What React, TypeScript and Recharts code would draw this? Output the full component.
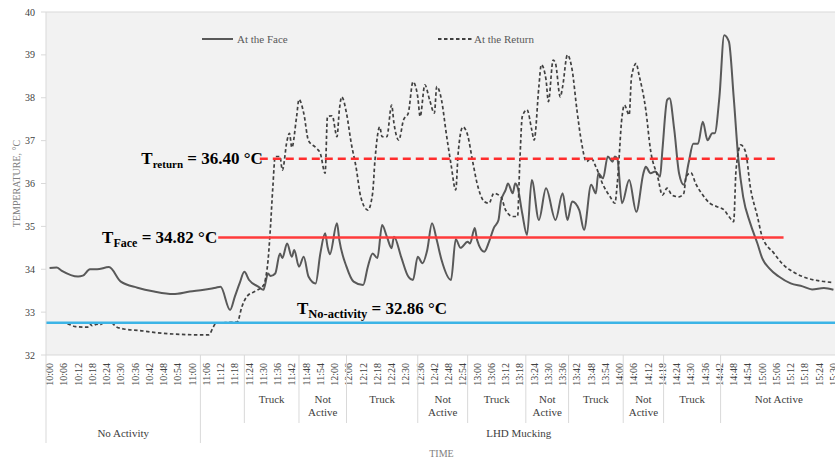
import React from "react";
import {
  LineChart,
  Line,
  XAxis,
  YAxis,
  CartesianGrid,
  ReferenceLine,
  Legend,
} from "recharts";

const FONT = '"Liberation Serif", "Times New Roman", serif';

// minutes after 10:00
const timeLabels = [
  "10:00", "10:06", "10:12", "10:18", "10:24", "10:30", "10:36", "10:42", "10:48", "10:54",
  "11:00", "11:06", "11:12", "11:18", "11:24", "11:30", "11:36", "11:42", "11:48", "11:54",
  "12:00", "12:06", "12:12", "12:18", "12:24", "12:30", "12:36", "12:42", "12:48", "12:54",
  "13:00", "13:06", "13:12", "13:18", "13:24", "13:30", "13:36", "13:42", "13:48", "13:54",
  "14:00", "14:06", "14:12", "14:18", "14:24", "14:30", "14:36", "14:42", "14:48", "14:54",
  "15:00", "15:06", "15:12", "15:18", "15:24", "15:30",
];

const faceMin = [
  0, 3, 5, 12, 14, 17, 20, 25, 30, 37, 44, 52, 59, 65, 70, 72, 76, 78, 80, 82, 84, 88, 90, 92,
  93, 95, 97, 98, 100, 102, 103, 105, 107, 109, 112, 114, 116, 117, 118, 121, 122, 125, 128,
  132, 134, 136, 138, 140, 142, 144, 145, 148, 151, 153, 155, 157, 159, 161, 163, 165, 169,
  171, 173, 176, 177, 179, 180, 183, 185, 187, 189, 190, 192, 193, 195, 196, 197, 199, 201,
  203, 206, 209, 213, 216, 218, 220, 223, 225, 228, 230, 231, 233, 235, 237, 238, 239, 241,
  244, 247, 250, 251, 253, 255, 257, 258, 260, 261, 263, 265, 267, 269, 271, 273, 275, 277,
  279, 280, 282, 284, 286, 288, 290, 292, 295, 298, 300, 303, 307, 312, 317, 321, 326, 330,
];
const faceTemp = [
  34.03, 34.04, 33.97, 33.83, 33.85, 34.0, 34.0, 34.05, 33.71, 33.57, 33.48, 33.42, 33.48,
  33.52, 33.57, 33.59, 33.05, 33.36, 33.67, 33.94, 33.75, 33.59, 33.52, 33.9, 33.84, 33.9,
  34.37, 34.26, 34.6, 34.29, 34.45, 34.06, 34.29, 33.83, 33.67, 34.37, 34.84, 34.53, 34.35,
  35.07, 34.68, 34.06, 33.71, 33.63, 34.06, 34.37, 34.26, 35.03, 34.76, 34.49, 34.76, 34.29,
  33.83, 33.75, 34.29, 34.14, 34.45, 35.07, 34.68, 34.22, 33.75, 34.7, 34.5, 34.64, 34.6,
  34.96, 34.68, 34.41, 34.64, 34.96, 35.15, 35.58, 35.85, 36.0, 35.77, 36.0, 35.92, 35.3,
  34.8, 36.08, 35.15, 35.89, 35.15, 35.77, 35.15, 35.58, 35.38, 34.92, 35.97, 35.77, 36.24,
  36.12, 36.63, 36.51, 36.63, 36.58, 35.54, 36.08, 35.34, 36.24, 36.39, 36.24, 36.28, 36.16,
  36.78, 37.95, 37.99, 37.25, 36.24, 35.97, 36.47, 36.93, 36.93, 37.44, 37.01, 37.17, 37.17,
  38.02, 39.46, 39.31, 38.02, 36.55, 35.69, 35.07, 34.6, 34.26, 34.02, 33.83, 33.67, 33.6,
  33.53, 33.56, 33.52,
];

const returnMin = [
  0, 5, 7, 11, 16, 17, 18, 20, 21, 23, 26, 28, 32, 38, 45, 52, 63, 67, 69, 70, 76, 79, 81, 83,
  87, 90, 91, 92, 93, 94, 95, 97, 98, 100, 101, 102, 104, 105, 107, 109, 112, 114, 116, 117,
  119, 121, 122, 123, 125, 127, 129, 131, 134, 136, 137, 139, 140, 142, 144, 145, 147, 149,
  151, 153, 155, 156, 158, 160, 162, 163, 165, 167, 169, 171, 172, 174, 176, 178, 180, 183,
  185, 187, 190, 192, 195, 197, 198, 199, 201, 203, 204, 206, 207, 209, 210, 212, 213, 215,
  216, 218, 220, 222, 224, 226, 228, 230, 233, 236, 238, 239, 241, 242, 244, 245, 247, 248,
  251, 253, 256, 258, 260, 262, 265, 267, 268, 270, 272, 275, 278, 281, 284, 286, 288, 289,
  291, 293, 295, 298, 300, 305, 309, 313, 319, 324, 330,
];
const returnTemp = [
  32.75, 32.75, 32.74, 32.66, 32.65, 32.72, 32.68, 32.72, 32.7, 32.75, 32.75, 32.66, 32.6,
  32.57, 32.52, 32.49, 32.47, 32.47, 32.66, 32.74, 32.76, 32.77, 33.13, 33.36, 33.5, 33.62,
  33.8, 34.22, 34.99, 35.92, 36.63, 36.63, 36.31, 37.01, 37.17, 36.84, 37.56, 37.96, 37.64,
  37.0, 36.84, 36.7, 36.24, 37.56, 37.58, 37.09, 37.72, 38.02, 37.64, 36.94, 36.39, 35.69,
  35.38, 35.77, 36.55, 37.32, 37.09, 37.09, 37.83, 37.4, 37.01, 37.48, 37.64, 38.37, 38.02,
  37.56, 38.3, 37.95, 37.64, 38.26, 37.95, 37.17, 36.45, 35.85, 36.7, 37.32, 37.13, 36.55,
  36.0, 35.58, 35.54, 35.77, 35.69, 35.38, 35.23, 35.23, 36.55, 37.56, 37.72, 37.25, 37.01,
  38.26, 38.77, 38.42, 37.91, 38.88, 38.8, 38.02, 38.26, 39.0, 38.65, 37.72, 36.94, 36.51,
  36.59, 36.39, 35.97, 35.69, 35.54, 36.0, 37.56, 37.83, 37.6, 38.49, 38.8, 38.57, 37.72,
  36.78, 36.16, 35.73, 35.89, 35.73, 35.69, 35.77, 36.16, 36.25, 36.0, 35.73, 35.54, 35.46,
  35.38, 35.23, 35.11, 36.32, 36.9, 36.74, 35.92, 35.23, 34.76, 34.37, 34.1, 33.94, 33.79,
  33.73, 33.69,
];

// activity groups (start minute of each group, last one runs to the end of the axis)
const activityStart = [63.5, 82, 105, 125, 155, 176, 200.5, 218.5, 241.5, 258.5, 282.5];
const activityLabel = [
  "", "Truck", "Not\nActive", "Truck", "Not\nActive", "Truck", "Not\nActive", "Truck",
  "Not\nActive", "Truck", "Not Active",
];
const phaseStart = [-1.5, 63.5];
const phaseLabel = ["No Activity", "LHD Mucking"];

const yTicks = [32, 33, 34, 35, 36, 37, 38, 39, 40];
const X_DOMAIN: [number, number] = [-1.5, 331.5];

const tReturn = 36.58;
const tFace = 34.74;
const tNoActivity = 32.75;

const TIME_AXIS_H = 40;

const toMin = (s: string) => {
  const [h, m] = s.split(":").map(Number);
  return (h - 10) * 60 + m;
};
const fmt = (m: number) => `${10 + Math.floor(m / 60)}:${String(m % 60).padStart(2, "0")}`;

const timeTicks = timeLabels.map(toMin);
const faceData = faceMin.map((m, i) => ({ min: m, temp: faceTemp[i] }));
const returnData = returnMin.map((m, i) => ({ min: m, temp: returnTemp[i] }));

type GInfo = { kind: "actSep" | "phaseSep" | "actLabel" | "phaseLabel"; label?: string };
const groupInfo = new Map<number, GInfo>();
activityStart.forEach((s, i) => {
  const e = i + 1 < activityStart.length ? activityStart[i + 1] : X_DOMAIN[1];
  groupInfo.set(s, { kind: "actSep" });
  if (activityLabel[i]) groupInfo.set((s + e) / 2, { kind: "actLabel", label: activityLabel[i] });
});
phaseStart.forEach((s, i) => {
  const e = i + 1 < phaseStart.length ? phaseStart[i + 1] : X_DOMAIN[1];
  groupInfo.set(s, { kind: "phaseSep" });
  groupInfo.set((s + e) / 2, { kind: "phaseLabel", label: phaseLabel[i] });
});
const groupTicks = Array.from(groupInfo.keys()).sort((a, b) => a - b);

function TimeTick({ x, y, payload }: any) {
  const ty = y + 8;
  return (
    <text
      x={x}
      y={ty}
      transform={`rotate(-90, ${x}, ${ty})`}
      textAnchor="end"
      dy="0.35em"
      fontSize={10}
      fontFamily={FONT}
      fill="#404040"
    >
      {fmt(payload.value)}
    </text>
  );
}

function GroupTick({ x, y, payload }: any) {
  const info = groupInfo.get(payload.value);
  if (!info) return <g />;
  const top = y - TIME_AXIS_H;
  if (info.kind === "actSep" || info.kind === "phaseSep") {
    return (
      <line
        x1={x}
        x2={x}
        y1={top}
        y2={info.kind === "actSep" ? top + 68 : top + 88}
        stroke="#d9d9d9"
        strokeWidth={1}
      />
    );
  }
  const lines = (info.label || "").split("\n");
  const ty = info.kind === "actLabel" ? top + 48 : top + 82;
  return (
    <text x={x} y={ty} textAnchor="middle" fontSize={11} fontFamily={FONT} fill="#404040">
      {lines.map((l, i) => (
        <tspan key={i} x={x} dy={i === 0 ? 0 : 12.7}>
          {l}
        </tspan>
      ))}
    </text>
  );
}

function TempLabel({ viewBox }: any) {
  const cx = viewBox.x + 16;
  const cy = viewBox.y + viewBox.height / 2;
  return (
    <text
      x={cx}
      y={cy}
      transform={`rotate(-90, ${cx}, ${cy})`}
      textAnchor="middle"
      dy="0.35em"
      fontSize={10}
      fontFamily={FONT}
      fill="#808080"
    >
      TEMPERATURE, °C
    </text>
  );
}

function TimeLabel({ viewBox }: any) {
  return (
    <text
      x={viewBox.x + viewBox.width / 2}
      y={viewBox.y + 58}
      textAnchor="middle"
      dy="0.35em"
      fontSize={10}
      fontFamily={FONT}
      fill="#808080"
    >
      TIME
    </text>
  );
}

function Anno({
  x,
  y,
  sub,
  value,
  subSize,
  anchor,
}: {
  x: number;
  y: number;
  sub: string;
  value: string;
  subSize: number;
  anchor: "start" | "end";
}) {
  return (
    <text x={x} y={y} textAnchor={anchor} fontFamily={FONT} fontWeight="bold" fontSize={17} fill="#000">
      <tspan>T</tspan>
      <tspan fontSize={subSize} dy={4}>
        {sub}
      </tspan>
      <tspan dy={-4}>{` = ${value} °C`}</tspan>
    </text>
  );
}

function LegendContent({ payload }: any) {
  const slots = [
    { x1: 7, x2: 38, tx: 42 },
    { x1: 243, x2: 277, tx: 279 },
  ];
  return (
    <svg width={380} height={20} style={{ display: "block" }}>
      {(payload || []).map((p: any, i: number) => {
        const s = slots[i];
        if (!s) return null;
        return (
          <g key={p.value}>
            <line
              x1={s.x1}
              x2={s.x2}
              y1={10}
              y2={10}
              stroke={p.color}
              strokeWidth={2}
              strokeDasharray={p.payload?.strokeDasharray}
            />
            <text x={s.tx} y={10} dy="0.35em" fontSize={11} fontFamily={FONT} fill="#595959">
              {p.value}
            </text>
          </g>
        );
      })}
    </svg>
  );
}

export default function App() {
  return (
    <div
      style={{
        position: "absolute",
        left: 0,
        top: 0,
        width: 835,
        height: 458,
        overflow: "hidden",
        background: "#fff",
      }}
    >
      <LineChart width={837} height={458} margin={{ top: 12, right: 0, bottom: 0, left: 0 }}>
        <CartesianGrid fill="#f2f2f2" horizontal={false} vertical={false} stroke="none" />
        <XAxis
          dataKey="min"
          type="number"
          domain={X_DOMAIN}
          allowDataOverflow
          ticks={timeTicks}
          interval={0}
          height={TIME_AXIS_H}
          tickLine={false}
          tickSize={0}
          tickMargin={0}
          axisLine={{ stroke: "#d9d9d9" }}
          tick={TimeTick}
        />
        <XAxis
          xAxisId="grp"
          dataKey="min"
          type="number"
          domain={X_DOMAIN}
          allowDataOverflow
          ticks={groupTicks}
          interval={0}
          height={458 - 355 - TIME_AXIS_H}
          tickLine={false}
          tickSize={0}
          tickMargin={0}
          axisLine={false}
          tick={GroupTick}
          label={(p: any) => <TimeLabel {...p} />}
        />
        <YAxis
          type="number"
          domain={[32, 40]}
          ticks={yTicks}
          interval={0}
          width={46}
          tickSize={5}
          tickMargin={6}
          tickLine={{ stroke: "#d9d9d9" }}
          axisLine={{ stroke: "#d9d9d9" }}
          tick={{ fill: "#404040", fontSize: 10, fontFamily: FONT }}
          label={(p: any) => <TempLabel {...p} />}
        />
        <ReferenceLine y={40} stroke="#d9d9d9" strokeWidth={1} />
        <Legend
          layout="horizontal"
          verticalAlign="middle"
          align="center"
          wrapperStyle={{ top: 29, left: 195, width: 380 }}
          content={LegendContent}
        />
        <Line
          data={faceData}
          dataKey="temp"
          name="At the Face"
          type="monotone"
          stroke="#595959"
          strokeWidth={2}
          dot={false}
          isAnimationActive={false}
        />
        <Line
          data={returnData}
          dataKey="temp"
          name="At the Return"
          type="monotone"
          stroke="#404040"
          strokeWidth={1.7}
          strokeDasharray="3.5 2.5"
          dot={false}
          isAnimationActive={false}
        />
        <ReferenceLine
          segment={[
            { x: 88.5, y: tReturn },
            { x: 306, y: tReturn },
          ]}
          stroke="#ff2d2d"
          strokeWidth={2.5}
          strokeDasharray="8 5"
          label={(p: any) => (
            <Anno x={p.viewBox.x + 3} y={p.viewBox.y + 5} sub="return" value="36.40" subSize={11} anchor="end" />
          )}
        />
        <ReferenceLine
          segment={[
            { x: 71, y: tFace },
            { x: 309, y: tFace },
          ]}
          stroke="#ff3b3b"
          strokeWidth={2.5}
          label={(p: any) => (
            <Anno x={p.viewBox.x - 1} y={p.viewBox.y + 5.5} sub="Face" value="34.82" subSize={12} anchor="end" />
          )}
        />
        <ReferenceLine
          y={tNoActivity}
          stroke="#3cb4e6"
          strokeWidth={2.5}
          label={(p: any) => (
            <Anno x={p.viewBox.x + 251} y={p.viewBox.y - 9} sub="No-activity" value="32.86" subSize={12.5} anchor="start" />
          )}
        />
      </LineChart>
    </div>
  );
}
